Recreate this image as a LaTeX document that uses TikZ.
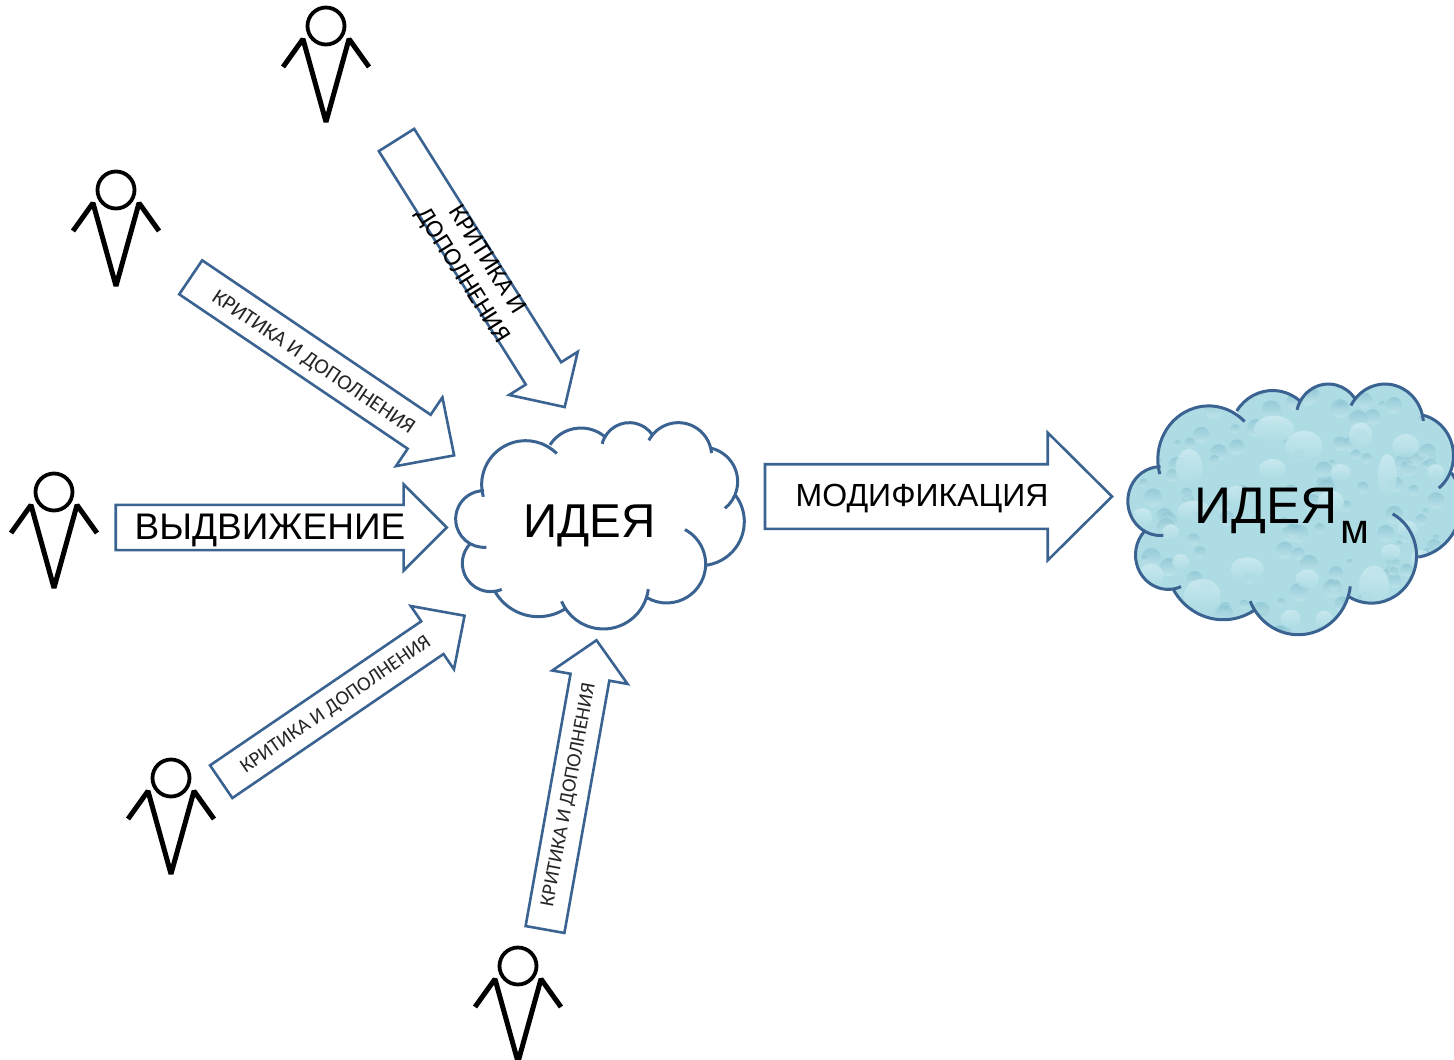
\documentclass[tikz,border=0pt]{standalone}
\usepackage{fontspec}
\setmainfont{Liberation Sans}
\newfontfamily\labelfont{Carlito}
\usetikzlibrary{shapes.arrows}
\definecolor{edgeblue}{HTML}{3A6391}
\definecolor{dropbase}{HTML}{AEDCE5}
\definecolor{dropdark}{HTML}{7DBBCB}
\definecolor{droplight}{HTML}{CDEBF0}
\tikzset{
  person/.pic={
    \draw[line width=5pt,line join=bevel] (-43,41) -- (-23,13) -- (0,96) -- (23,13) -- (43,41);
    \draw[line width=3.8pt,fill=white] (0,0) circle (18.5);
  },
  blockarrow/.style n args={3}{
    draw=edgeblue,line width=2.6pt,fill=white,single arrow,outer sep=0pt,anchor=tail,
    inner xsep=0pt,inner ysep=#1,single arrow head extend=#2,minimum height=#3
  },
  critlabel/.style={font=\labelfont\fontsize{20.3}{24}\selectfont,text=black!85},
  cloudline/.style={draw=edgeblue,line width=3pt}
}
\def\lobe#1#2#3#4#5{({#1+#3*cos(#4)},{#2+#3*sin(#4)}) arc[start angle=#4,end angle=#5,radius=#3]}
\def\cloudlobes#1{
  \lobe{132}{357}{85}{85}{270}
  #1 \lobe{257}{254}{132}{164}{315}
  #1 \lobe{423}{195}{111}{213}{312}
  #1 \lobe{568}{152}{84}{194}{325}
  #1 \lobe{715}{168}{100}{208}{355}
  #1 \lobe{790}{245}{103}{284}{411}
  #1 \lobe{781}{365}{132}{324}{441}
  #1 \lobe{680}{492}{117}{298}{479}
  #1 \lobe{490}{551}{136}{7}{157}
  #1 \lobe{295}{500}{150}{58}{150}
  #1 \lobe{152}{490}{85}{67}{223}
}
\begin{document}
\begin{tikzpicture}[x=1pt,y=-1pt]
  \useasboundingbox (0,0) rectangle (1454,1060);
  \pic (person0) at (326,26) {person};
  \pic (person1) at (116,190) {person};
  \pic (person2) at (54,492) {person};
  \pic (person3) at (171,778) {person};
  \pic (person4) at (518,966) {person};

  \node[blockarrow={19.6pt}{19.6pt}{315.6pt},rotate=-57.8,single arrow tip angle=91] (critique0) at (396.5,140) {};
  \node[blockarrow={19.2pt}{21pt}{318pt},rotate=-34.06,single arrow tip angle=89] (critique1) at (190.7,277.3) {};
  \node[blockarrow={21.3pt}{20.5pt}{331pt},single arrow tip angle=90] (proposal) at (115.7,527.5) {};
  \node[blockarrow={18.5pt}{18.5pt}{294.6pt},rotate=34.3,single arrow tip angle=89] (critique3) at (221.2,781.7) {};
  \node[blockarrow={18.4pt}{18.5pt}{293.8pt},rotate=79.9,single arrow tip angle=91] (critique4) at (545,929.5) {};
  \node[blockarrow={31pt}{31.5pt}{347pt},single arrow tip angle=89.6] (change) at (765,496.5) {};

  \node[critlabel,text=black,font=\labelfont\fontsize{25.5}{29}\selectfont,align=center,rotate=-57.8] (text0) at (474,268) {КРИТИКА И\\ДОПОЛНЕНИЯ};
  \node[critlabel,font=\labelfont\fontsize{21.5}{24}\selectfont,rotate=-34.06] (text1) at (313,363) {КРИТИКА И ДОПОЛНЕНИЯ};
  \node[font=\fontsize{37}{40}\selectfont] (text2) at (270,530) {ВЫДВИЖЕНИЕ};
  \node[critlabel,rotate=34.6] (text3) at (336,705) {КРИТИКА И ДОПОЛНЕНИЯ};
  \node[critlabel,rotate=79.3] (text4) at (569,795) {КРИТИКА И ДОПОЛНЕНИЯ};
  \node[font=\fontsize{32}{36}\selectfont] (text5) at (922,499) {МОДИФИКАЦИЯ};

  \begin{scope}[shift={(440,400)},scale=0.3333]
    \draw[cloudline] \cloudlobes{};
  \end{scope}
  \node[anchor=base west,inner sep=0pt,font=\fontsize{47.5}{50}\selectfont] (idea) at (523,537) {ИДЕЯ};

  \begin{scope}
    \begin{scope}[shift={(1109.7,356.5)},xscale=0.385,yscale=0.405]
      \clip \cloudlobes{--} -- cycle;
      \fill[dropbase] (0,0) rectangle (1000,800);
      \begin{scope}[xscale=2.5974,yscale=2.4691,shift={(-2.33,32.56)}]
      \pgfmathsetseed{17}
      \foreach \i in {1,...,170} {
        \pgfmathsetmacro\dropx{rnd*345}
        \pgfmathsetmacro\dropy{rnd*270}
        \pgfmathsetmacro\dropr{3+rnd*7}
        \shade[top color=dropdark,bottom color=droplight,opacity=0.5] (\dropx,\dropy) circle (\dropr);
      }
      \foreach \dropx/\dropy/\dropa/\dropb in {245/235/40/55,285/620/55/50,590/170/55/45,800/590/45/60,840/260/28/65,495/240/40/30,420/540/50/35,600/570/35/28,260/365/50/30,895/170/40/35,760/140/35/40,500/120/60/40,670/340/40/35,130/560/40/35,105/385/30/28,940/510/30/28,550/690/30/28,900/420/30/25,700/250/30/25,190/430/25/25,220/520/25/25,390/320/35/30,985/250/25/25,850/490/30/25,380/710/30/25,650/690/25/25} {
        \shade[top color=droplight,middle color=dropdark,bottom color=dropbase,opacity=0.8] (\dropx/3,\dropy/3) ellipse ({\dropa/3} and {\dropb/3});
      }
      \end{scope}
    \end{scope}
  \end{scope}
  \begin{scope}[shift={(1109.7,356.5)},xscale=0.385,yscale=0.405]
    \draw[cloudline] \cloudlobes{};
  \end{scope}
  \node[anchor=base west,inner sep=0pt,font=\fontsize{51.5}{54}\selectfont] (ideam) at (1194,523) {ИДЕЯ\hspace{3pt}\raisebox{-20pt}{\fontsize{42}{44}\selectfont м}};
\end{tikzpicture}
\end{document}
